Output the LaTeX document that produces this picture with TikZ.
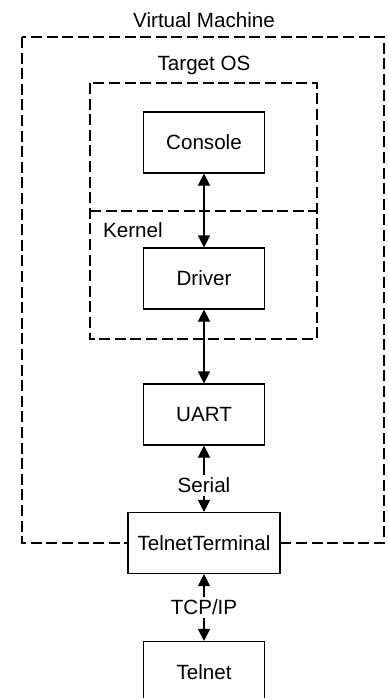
\documentclass[tikz,border=0pt]{standalone}
\usepackage{fontspec}
\setmainfont{Liberation Sans}
\usepackage{tikz}
\usetikzlibrary{arrows.meta}

\begin{document}
\begin{tikzpicture}[x=0.5pt, y=-0.5pt,
    font=\fontsize{10.3}{12}\selectfont,
    box/.style = {draw, line width=0.55pt, fill=white, minimum width=60.5pt, minimum height=30.5pt, inner sep=2pt},
    frame/.style = {draw, line width=1.3pt, dash pattern=on 5.5pt off 2.3pt},
    lbl/.style = {fill=white, inner sep=1.5pt},
    link/.style = {line width=0.55pt, {Triangle[length=6pt,width=6pt]}-{Triangle[length=6pt,width=6pt]}}]
    \useasboundingbox (0,0) rectangle (387,698);
    % frames
    \draw [frame] (22,37) rectangle (384,543);
    \draw [frame] (90,83) rectangle (317,339);
    \draw [frame] (90,211) -- (317,211);
    \node (vm) at (204,20) {Virtual Machine};
    \node (os) at (204,65) {Target OS};
    \node (kernel) at (96,230) [anchor = west] {Kernel};
    % boxes
    \node [box] (console) at (204,142.5) {Console};
    \node [box] (driver) at (204,278.5) {Driver};
    \node [box] (uart) at (204,414.5) {UART};
    \node [box, minimum width=76pt] (term) at (204,543) {TelnetTerminal};
    \node [box] (telnet) at (204,672) {Telnet};
    % links
    \draw [link] (console) -- (driver);
    \draw [link] (driver) -- (uart);
    \draw [link] (uart) -- node [lbl, pos=0.6] {Serial} (term);
    \draw [link] (term) -- node [lbl] {TCP/IP} (telnet);
\end{tikzpicture}
\end{document}
